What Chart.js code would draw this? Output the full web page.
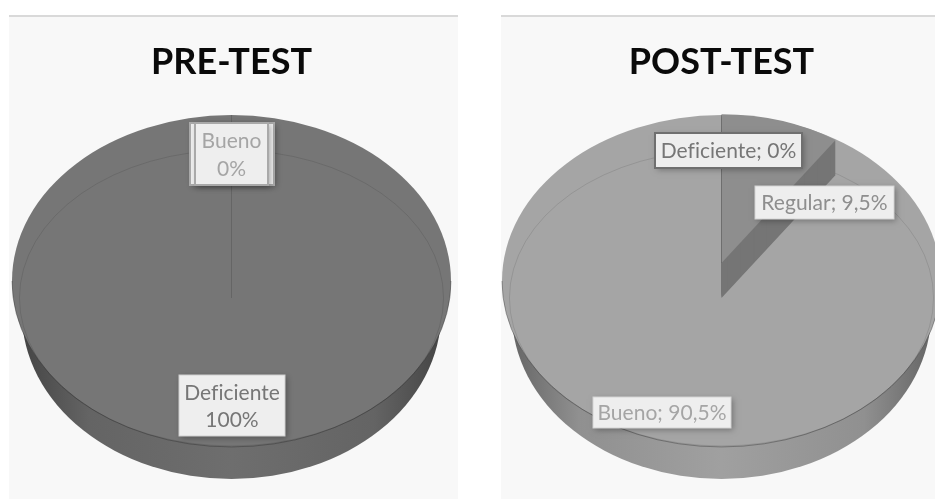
<!DOCTYPE html>
<html>
<head>
<meta charset="utf-8">
<title>Pre-test y post-test</title>
<script src="https://cdn.jsdelivr.net/npm/chart.js@4"></script>
<style>
    html, body { margin: 0; padding: 0; width: 935px; height: 499px; overflow: hidden; background: #fff; }
    .panel { position: absolute; top: 15px; height: 484px; background: #f8f8f8; border-top: 2px solid #d9d9d9; box-sizing: border-box; overflow: hidden; }
    #panel_pre { left: 9px; width: 449px; }
    #panel_post { left: 501px; width: 434px; }
    canvas { position: absolute; filter: blur(0.45px); }
</style>
</head>
<body>
<div class="panel" id="panel_pre"></div>
<div class="panel" id="panel_post"></div>
<canvas id="chart_pre" width="449" height="560" style="left:10px;top:15px"></canvas>
<canvas id="chart_post" width="449" height="560" style="left:501px;top:15px"></canvas>
<script>
const categories = ["Deficiente", "Regular", "Bueno"];
const pre_values = [100, 0, 0];
const post_values = [0, 9.5, 90.5];
const slice_colors = ["#767676", "#8e8e8e", "#a5a5a5"];

// label boxes in page pixels: category index, left, top, right, bottom
const pre_boxes = [[1, 190, 123, 274, 185], [2, 195, 123, 268, 185], [0, 179, 375, 285, 436]];
const post_boxes = [[0, 655, 133, 802, 168], [1, 755, 186, 894, 219], [2, 593, 397, 731, 428]];

const FACE_Y = 266;      // centre of the top face, canvas pixels
const FACE_K = 0.756;    // vertical squash of the tilted disc
const DEPTH = 32;
const WALL_K = 0.955;    // the bottom of the disc is narrower, perspective
const RAISED = -18;      // raised slice centre relative to FACE_Y
const RAISED_DROP = 35;

function sector(ctx, arc, color, dy, sx, sy) {
    if (arc.endAngle - arc.startAngle <= 0) return;
    ctx.save();
    ctx.translate(arc.x, FACE_Y + dy);
    ctx.scale(sx, sy);
    ctx.beginPath();
    ctx.moveTo(0, 0);
    ctx.arc(0, 0, arc.outerRadius, arc.startAngle, arc.endAngle);
    ctx.closePath();
    ctx.restore();
    ctx.fillStyle = color;
    ctx.fill();
}

function ring(ctx, arc, color, dy, sx, sy, from, to) {
    ctx.beginPath();
    ctx.ellipse(arc.x, FACE_Y + dy, arc.outerRadius * sx, arc.outerRadius * sy, 0, from, to);
    ctx.strokeStyle = color;
    ctx.lineWidth = 1;
    ctx.stroke();
}

const tiltedPie = {
    id: "tiltedPie",
    beforeDatasetDraw(chart) {
        const ctx = chart.ctx;
        const arcs = chart.getDatasetMeta(0).data;
        const values = chart.data.datasets[0].data;
        const main = values.indexOf(Math.max(...values));
        const a = arcs[main];
        const edge = chart.options.edgeColors;

        // side wall
        const r = a.outerRadius * WALL_K;
        const wall = ctx.createLinearGradient(a.x - r, 0, a.x + r, 0);
        wall.addColorStop(0, edge[0]);
        wall.addColorStop(0.16, edge[1]);
        wall.addColorStop(0.5, edge[2]);
        wall.addColorStop(0.84, edge[1]);
        wall.addColorStop(1, edge[0]);
        ctx.beginPath();
        ctx.ellipse(a.x, FACE_Y + DEPTH, r, a.outerRadius * FACE_K, 0, 0, Math.PI * 2);
        ctx.fillStyle = wall;
        ctx.fill();

        // top face
        ctx.beginPath();
        ctx.ellipse(a.x, FACE_Y, a.outerRadius, a.outerRadius * FACE_K, 0, 0, Math.PI * 2);
        ctx.fillStyle = slice_colors[main];
        ctx.fill();
        ring(ctx, a, "rgba(30,30,30,0.35)", 0, 1, FACE_K, 0, Math.PI);
        ring(ctx, a, "rgba(0,0,0,0.1)", 17, 0.966, 0.674, 0, Math.PI * 2);

        arcs.forEach((arc, i) => {
            if (i === main || values[i] === 0) return;
            for (let d = RAISED_DROP; d > 0; d--) {
                sector(ctx, arc, "#757575", RAISED + d, 0.925, 0.678);
            }
            sector(ctx, arc, slice_colors[i], RAISED, 0.925, 0.678);
        });

        // seam where the slices start
        const top = FACE_Y - a.outerRadius * FACE_K;
        ctx.beginPath();
        ctx.moveTo(a.x, top);
        ctx.lineTo(a.x, FACE_Y + chart.options.seamEnd);
        ctx.strokeStyle = "rgba(0,0,0,0.14)";
        ctx.lineWidth = 1;
        ctx.stroke();
        return false;
    },
    afterDatasetsDraw(chart) {
        const ctx = chart.ctx;
        const values = chart.data.datasets[0].data;
        const left = chart.canvas.offsetLeft;
        const top = chart.canvas.offsetTop;
        chart.options.labelBoxes.forEach(([i, x0, y0, x1, y1]) => {
            const x = x0 - left, y = y0 - top, w = x1 - x0, h = y1 - y0;
            ctx.save();
            ctx.shadowColor = "rgba(0,0,0,0.3)";
            ctx.shadowBlur = 6;
            ctx.shadowOffsetX = 2;
            ctx.shadowOffsetY = 2;
            ctx.fillStyle = "#eeeeee";
            ctx.fillRect(x, y, w, h);
            ctx.restore();
            ctx.strokeStyle = chart.options.boxBorders[i];
            ctx.lineWidth = chart.options.boxBorderWidths[i];
            ctx.strokeRect(x, y, w, h);

            const pct = String(values[i]).replace(".", ",") + "%";
            ctx.fillStyle = slice_colors[i];
            ctx.font = "21px Lato";
            ctx.letterSpacing = "0.02px";   // keeps the "fi" apart
            ctx.textAlign = "center";
            ctx.textBaseline = "middle";
            if (chart.options.stackedLabels) {
                if (values[i] === 0 && i === 1) return;   // sits hidden under the Bueno box
                ctx.fillText(categories[i], x + w / 2, y + h * 0.3);
                ctx.fillText(pct, x + w / 2, y + h * 0.74);
            } else {
                ctx.fillText(categories[i] + "; " + pct, x + w / 2, y + h / 2 + 1);
            }
            ctx.letterSpacing = "0px";
        });
    }
};

function makePie(id, title, values, opts) {
    return new Chart(document.getElementById(id), {
        type: "pie",
        plugins: [tiltedPie],
        data: {
            labels: categories,
            datasets: [{ data: values, backgroundColor: slice_colors, borderWidth: 0 }]
        },
        options: Object.assign({
            responsive: false,
            animation: false,
            devicePixelRatio: 1,
            layout: { padding: opts.padding },
            plugins: {
                legend: { display: false },
                tooltip: { enabled: false },
                title: {
                    display: true,
                    text: title,
                    color: "#0a0a0a",
                    font: { family: "Lato", size: 36, weight: "bold" },
                    padding: { top: 26, bottom: 20 }
                }
            }
        }, opts)
    });
}

makePie("chart_pre", "PRE-TEST", pre_values, {
    padding: { left: 2, right: 8 },
    labelBoxes: pre_boxes,
    stackedLabels: true,
    seamEnd: 17,
    edgeColors: ["#454545", "#646464", "#6e6e6e"],
    boxBorders: ["#d0d0d0", "#a9a9a9", "#a9a9a9"],
    boxBorderWidths: [1, 2, 2]
});

makePie("chart_post", "POST-TEST", post_values, {
    padding: { left: 1, right: 9 },
    labelBoxes: post_boxes,
    stackedLabels: false,
    seamEnd: -18,
    edgeColors: ["#666666", "#909090", "#a0a0a0"],
    boxBorders: ["#6f6f6f", "#d4d4d4", "#d4d4d4"],
    boxBorderWidths: [2, 1, 1]
});
</script>
</body>
</html>
